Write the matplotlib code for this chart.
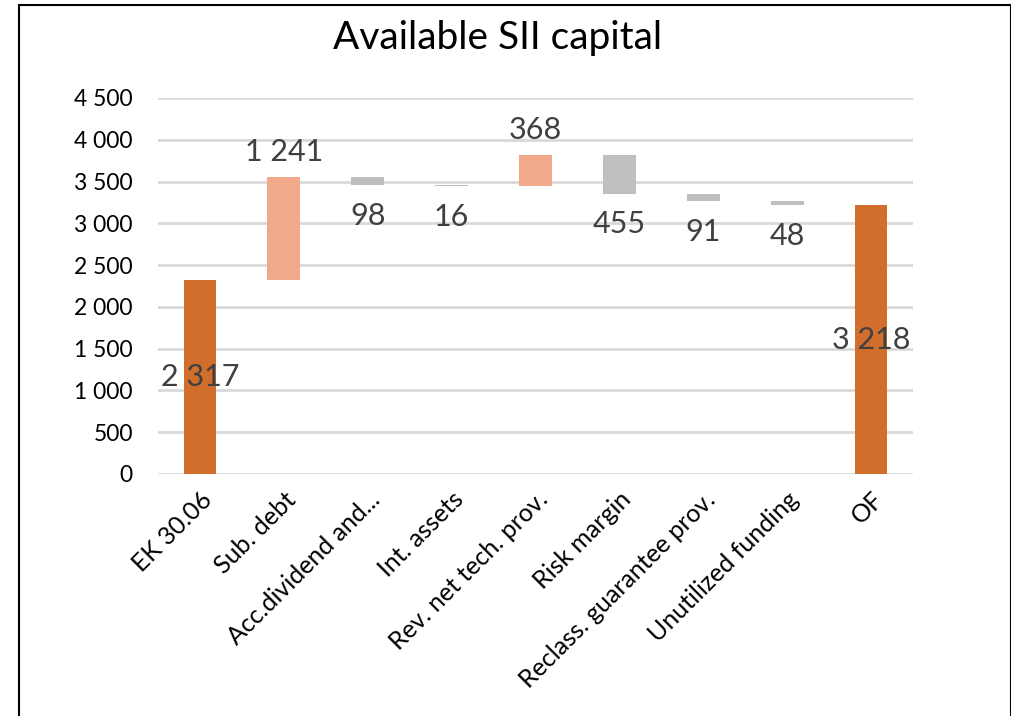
import matplotlib.pyplot as plt
from matplotlib.patches import Rectangle

plt.rcParams['font.family'] = ['Lato', 'DejaVu Sans']

categories = ["EK 30.06", "Sub. debt", "Acc.dividend and...", "Int. assets",
              "Rev. net tech. prov.", "Risk margin", "Reclass. guarantee prov.",
              "Unutilized funding", "OF"]
# change per step; the first and last entries are totals
values = [2317, 1241, -98, -16, 368, -455, -91, -48, 3218]
kinds = ["total", "step", "step", "step", "step", "step", "step", "step", "total"]
yticks = [0, 500, 1000, 1500, 2000, 2500, 3000, 3500, 4000, 4500]

c_total = "#D26E2B"
c_up = "#F1A98A"
c_down = "#BFBFBF"
label_color = "#404040"


def fmt(v):
    return f"{abs(v):,}".replace(",", " ")


fig = plt.figure(figsize=(10.12, 7.16), dpi=100)
ax = fig.add_axes([158 / 1012, 1 - 474 / 716, 755 / 1012, 376 / 716])

running = 0
for i, (v, kind) in enumerate(zip(values, kinds)):
    if kind == "total":
        running = v
        ax.bar(i, v, width=0.39, color=c_total, zorder=3)
        ax.text(i, v / 2, fmt(v), ha="center", va="center", fontsize=22,
                color=label_color, zorder=4)
        continue
    bottom = running if v >= 0 else running + v
    color = c_up if v >= 0 else c_down
    ax.bar(i, abs(v), bottom=bottom, width=0.39, color=color, zorder=3)
    if v >= 0:
        ax.annotate(fmt(v), (i, running + v), xytext=(0, 8),
                    textcoords="offset points", ha="center", va="bottom",
                    fontsize=22, color=label_color)
    else:
        ax.annotate(fmt(v), (i, running + v), xytext=(0, -12),
                    textcoords="offset points", ha="center", va="top",
                    fontsize=22, color=label_color)
    running += v

ax.set_xlim(-0.5, len(categories) - 0.5)
ax.set_ylim(0, 4500)
ax.set_yticks(yticks)
ax.set_yticklabels([fmt(t) for t in yticks], fontsize=16.5)
ax.set_xticks(range(len(categories)))
ax.set_xticklabels(categories, rotation=45, ha="right",
                   rotation_mode="anchor", fontsize=18)
ax.tick_params(length=0, pad=18)
ax.tick_params(axis="x", pad=10)
ax.grid(axis="y", color="#D9D9D9", linewidth=2, zorder=0)
for s in ax.spines.values():
    s.set_visible(False)

fig.text(498 / 1012, 1 - 38 / 716, "Available SII capital", ha="center",
         va="center", fontsize=28, color="black")

fig.patches.append(Rectangle((19 / 1012, -0.05), 992 / 1012, 1.05 - 5 / 716,
                             transform=fig.transFigure, fill=False,
                             edgecolor="black", linewidth=1.5))

fig.savefig("out.png", dpi=100)
